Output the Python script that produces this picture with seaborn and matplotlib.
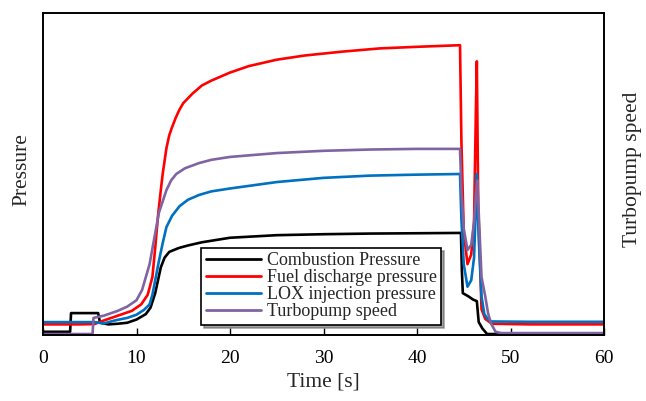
import numpy as np
import pandas as pd
import matplotlib
matplotlib.use("Agg")
import matplotlib.pyplot as plt
import seaborn as sns

# ---- data (time in s, arbitrary normalised units 0-100) ----
comb_t = [0, 2.9, 3.0, 5.9, 6.1, 7, 8, 9, 10, 11, 11.5, 12.0, 12.3, 12.6, 13.0, 13.5, 14.5,
          15.5, 17, 20, 25, 30, 35, 40, 44.7, 44.8, 44.9, 45.5, 46.0, 46.4, 46.6, 47.0, 47.5, 52, 60]
comb_v = [1.0, 1.0, 6.8, 6.8, 3.8, 3.3, 3.5, 3.8, 4.8, 6.5, 8.5, 13, 17, 21, 24, 25.8, 27,
          27.8, 28.8, 30.2, 31.0, 31.3, 31.5, 31.6, 31.7, 20, 13, 12.0, 11.0, 10.5, 4, 2, 0.3, 0.3, 0.3]

fuel_t = [0, 2, 4, 5.5, 6.5, 7.5, 8.5, 9.5, 10.5, 11.2, 11.7, 12.0, 12.3, 12.6, 12.8, 13.0, 13.2,
          13.5, 13.8, 14.2, 14.6, 15, 16, 17, 18, 20, 22, 25, 28, 32, 36, 40, 44.6, 44.75, 45.0,
          45.4, 45.8, 46.1, 46.3, 46.4, 46.55, 46.9, 47.3, 48, 52, 56, 60]
fuel_v = [3.3, 3.3, 3.3, 3.4, 4.5, 5.5, 6.5, 7.5, 9.5, 12.5, 18, 27, 37, 45, 50, 54, 58,
          62, 64.5, 67.5, 70, 72, 75, 77.5, 79, 81.5, 83.5, 85.5, 86.8, 88, 89, 89.5, 90, 60, 32,
          22, 25, 35, 70, 85, 40, 8, 5, 3.5, 3.3, 3.3, 3.3]

lox_t = [0, 2, 4, 5.5, 6.5, 7.8, 9, 10, 10.8, 11.4, 11.7, 12.0, 12.4, 12.8, 13.2, 13.8, 14.6,
         15.5, 16.7, 18, 20, 25, 30, 35, 40, 44.6, 44.75, 45.0, 45.4, 45.8, 46.1, 46.3, 46.4,
         46.6, 46.9, 47.2, 47.6, 48, 52, 56, 60]
lox_v = [4.0, 4.0, 4.0, 4.0, 3.6, 4.6, 5.3, 6.3, 7.8, 9.5, 12.5, 17, 23, 28.5, 33.5, 37, 40,
         42, 43.5, 44.6, 45.5, 47.5, 48.8, 49.5, 49.8, 50, 36, 22, 15, 17, 24, 40, 50,
         30, 12, 6.5, 4.8, 4.2, 4.1, 4.1, 4.1]

speed_t = [0, 2, 4, 5.3, 5.4, 6.5, 8, 9, 10, 10.6, 11.4, 11.9, 12.4, 13.2, 13.7, 14.25, 15.2,
           16.7, 18, 20, 25, 30, 35, 40, 44.6, 44.75, 45.0, 45.4, 45.8, 46.1, 46.3, 46.45, 46.9,
           47.3, 47.6, 47.9, 48.4, 49, 52, 56, 60]
speed_v = [0.3, 0.3, 0.3, 0.3, 5.3, 6.0, 7.5, 8.8, 10.8, 14, 22, 30, 38, 45, 48, 50, 51.8,
           53.4, 54.4, 55.3, 56.5, 57.2, 57.6, 57.8, 57.8, 45, 33, 26.4, 28, 35, 44, 48, 18,
           12, 6.8, 3.7, 1.0, 0.6, 0.6, 0.6, 0.6]

series_names = ["Combustion Pressure", "Fuel discharge pressure",
                "LOX injection pressure", "Turbopump speed"]
series_colors = ["#000000", "#FF0000", "#0070C0", "#8064A2"]
x_ticks = [0, 10, 20, 30, 40, 50, 60]

frames = []
for name, t, v in zip(series_names, [comb_t, fuel_t, lox_t, speed_t],
                      [comb_v, fuel_v, lox_v, speed_v]):
    frames.append(pd.DataFrame({"Time": t, "Value": v, "Series": name}))
df = pd.concat(frames, ignore_index=True)

sns.set_style("white")
plt.rcParams["font.family"] = ["Liberation Serif", "DejaVu Serif"]

fig = plt.figure(figsize=(6.46, 4.01), dpi=100)
ax = fig.add_axes([43 / 646, 1 - 335 / 401, (604 - 43) / 646, (335 - 13) / 401])

sns.lineplot(data=df, x="Time", y="Value", hue="Series", hue_order=series_names,
             palette=series_colors, estimator=None, sort=False, linewidth=1.9, ax=ax)

ax.set_xlim(0, 60)
ax.set_ylim(0, 100)
ax.set_xticks(x_ticks)
ax.set_xticklabels([str(x) for x in x_ticks])
ax.set_yticks([])
ax.tick_params(axis="x", direction="in", length=5, width=1, pad=11, labelsize=14,
               bottom=True, top=False, colors="black")
for s in ax.spines.values():
    s.set_color("black")
    s.set_linewidth(1.4)

ax.set_xlabel("Time [s]", fontsize=15.5, labelpad=4)
ax.set_ylabel("")
fig.text(22 / 646, 1 - 170 / 401, "Pressure", rotation=90, fontsize=15.5,
         ha="center", va="center")
fig.text(633 / 646, 1 - 169 / 401, "Turbopump speed", rotation=90, fontsize=15.5,
         ha="center", va="center")

leg = ax.legend(loc="lower left", bbox_to_anchor=((201 - 43) / 561, (335 - 325) / 322),
                fontsize=13, frameon=True, fancybox=False, shadow=True,
                labelspacing=0.0, handlelength=3.1, handletextpad=0.3,
                borderpad=0.25, borderaxespad=0.0)
leg.get_frame().set_edgecolor("black")
leg.get_frame().set_linewidth(1.2)
for line in leg.get_lines():
    line.set_linewidth(2.0)

fig.savefig("out.png", dpi=100)
